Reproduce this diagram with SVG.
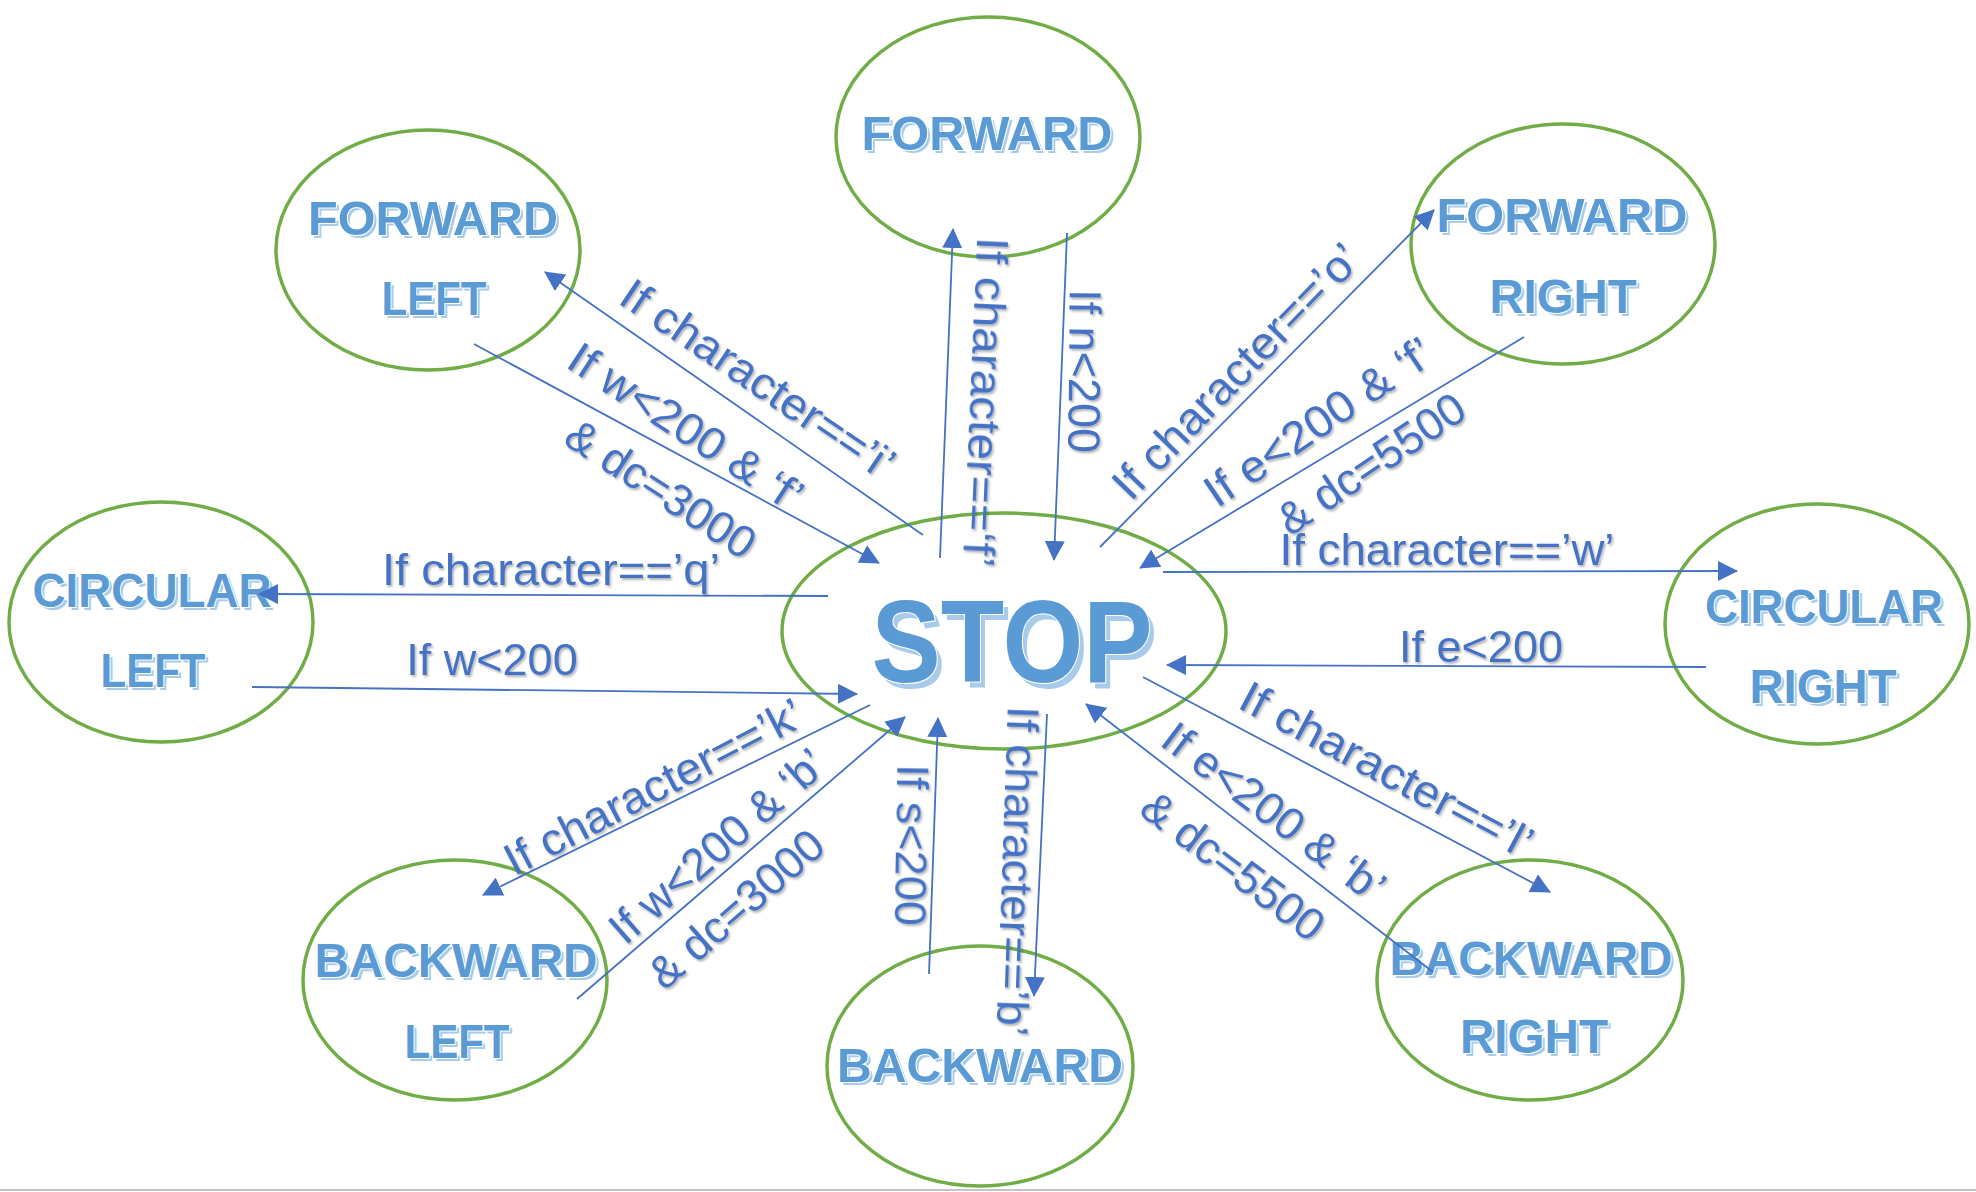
<svg xmlns="http://www.w3.org/2000/svg" width="1976" height="1192" viewBox="0 0 1976 1192">
<style>
.node ellipse{fill:none;stroke:#70AD47;stroke-width:3.5}
.ns{font-family:"Liberation Sans",Arial,sans-serif;font-size:48px;font-weight:bold;text-anchor:middle;fill:#A9CBEB}
.nt{font-family:"Liberation Sans",Arial,sans-serif;font-size:48px;font-weight:bold;text-anchor:middle;fill:#5B9BD5;stroke:#fff;stroke-width:2.2;paint-order:stroke}
.stop{font-size:116px}
.conn line{stroke:#4472C4;stroke-width:1.8;marker-end:url(#ah)}
.lb{font-family:"Liberation Sans",Arial,sans-serif;font-size:45px;fill:#4472C4;text-anchor:middle}
</style>
<defs>
<marker id="ah" markerUnits="userSpaceOnUse" viewBox="0 0 20 20" markerWidth="20" markerHeight="20" refX="19" refY="10" orient="auto">
<path d="M0,0 L20,10 L0,20 z" fill="#4472C4"/>
</marker>
<filter id="sh" x="-10%" y="-30%" width="120%" height="160%">
<feDropShadow dx="1.5" dy="2" stdDeviation="1.2" flood-color="#000" flood-opacity="0.3"/>
</filter>
</defs>
<rect width="1976" height="1192" fill="#fff"/>
<line x1="0" y1="1190" x2="1976" y2="1190" stroke="#C4C4C4" stroke-width="2"/>

<g id="forward" class="node">
<ellipse cx="988" cy="137" rx="152" ry="120"/>
<text class="ns" x="990" y="153" textLength="251" lengthAdjust="spacingAndGlyphs">FORWARD</text>
<text class="nt" x="987" y="150" textLength="251" lengthAdjust="spacingAndGlyphs">FORWARD</text>
</g>
<g id="forward-left" class="node">
<ellipse cx="428" cy="250" rx="152" ry="120"/>
<text class="ns" x="436" y="238" textLength="250" lengthAdjust="spacingAndGlyphs">FORWARD</text>
<text class="nt" x="433" y="235" textLength="250" lengthAdjust="spacingAndGlyphs">FORWARD</text>
<text class="ns" x="437" y="318" textLength="105" lengthAdjust="spacingAndGlyphs">LEFT</text>
<text class="nt" x="434" y="315" textLength="105" lengthAdjust="spacingAndGlyphs">LEFT</text>
</g>
<g id="forward-right" class="node">
<ellipse cx="1563" cy="244" rx="152" ry="120"/>
<text class="ns" x="1565" y="235" textLength="251" lengthAdjust="spacingAndGlyphs">FORWARD</text>
<text class="nt" x="1562" y="232" textLength="251" lengthAdjust="spacingAndGlyphs">FORWARD</text>
<text class="ns" x="1566" y="316" textLength="147" lengthAdjust="spacingAndGlyphs">RIGHT</text>
<text class="nt" x="1563" y="313" textLength="147" lengthAdjust="spacingAndGlyphs">RIGHT</text>
</g>
<g id="circular-left" class="node">
<ellipse cx="161" cy="622" rx="152" ry="120"/>
<text class="ns" x="155" y="610" textLength="239" lengthAdjust="spacingAndGlyphs">CIRCULAR</text>
<text class="nt" x="152" y="607" textLength="239" lengthAdjust="spacingAndGlyphs">CIRCULAR</text>
<text class="ns" x="156" y="690" textLength="105" lengthAdjust="spacingAndGlyphs">LEFT</text>
<text class="nt" x="153" y="687" textLength="105" lengthAdjust="spacingAndGlyphs">LEFT</text>
</g>
<g id="circular-right" class="node">
<ellipse cx="1817" cy="624" rx="152" ry="120"/>
<text class="ns" x="1827" y="626" textLength="238" lengthAdjust="spacingAndGlyphs">CIRCULAR</text>
<text class="nt" x="1824" y="623" textLength="238" lengthAdjust="spacingAndGlyphs">CIRCULAR</text>
<text class="ns" x="1826" y="706" textLength="147" lengthAdjust="spacingAndGlyphs">RIGHT</text>
<text class="nt" x="1823" y="703" textLength="147" lengthAdjust="spacingAndGlyphs">RIGHT</text>
</g>
<g id="stop" class="node">
<ellipse cx="1004" cy="631" rx="222" ry="118"/>
<text class="ns stop" x="1017" y="688" textLength="281" lengthAdjust="spacingAndGlyphs">STOP</text>
<text class="nt stop" x="1012" y="682" textLength="281" lengthAdjust="spacingAndGlyphs">STOP</text>
</g>
<g id="backward-left" class="node">
<ellipse cx="455" cy="980" rx="152" ry="120"/>
<text class="ns" x="459" y="980" textLength="283" lengthAdjust="spacingAndGlyphs">BACKWARD</text>
<text class="nt" x="456" y="977" textLength="283" lengthAdjust="spacingAndGlyphs">BACKWARD</text>
<text class="ns" x="460" y="1061" textLength="105" lengthAdjust="spacingAndGlyphs">LEFT</text>
<text class="nt" x="457" y="1058" textLength="105" lengthAdjust="spacingAndGlyphs">LEFT</text>
</g>
<g id="backward" class="node">
<ellipse cx="980" cy="1066" rx="153" ry="120"/>
<text class="ns" x="983" y="1085" textLength="286" lengthAdjust="spacingAndGlyphs">BACKWARD</text>
<text class="nt" x="980" y="1082" textLength="286" lengthAdjust="spacingAndGlyphs">BACKWARD</text>
</g>
<g id="backward-right" class="node">
<ellipse cx="1530" cy="980" rx="153" ry="120"/>
<text class="ns" x="1534" y="978" textLength="283" lengthAdjust="spacingAndGlyphs">BACKWARD</text>
<text class="nt" x="1531" y="975" textLength="283" lengthAdjust="spacingAndGlyphs">BACKWARD</text>
<text class="ns" x="1537" y="1056" textLength="148" lengthAdjust="spacingAndGlyphs">RIGHT</text>
<text class="nt" x="1534" y="1053" textLength="148" lengthAdjust="spacingAndGlyphs">RIGHT</text>
</g>

<g id="connectors" class="conn">
<line x1="923" y1="535" x2="545" y2="272"/>
<line x1="474" y1="344" x2="879" y2="563"/>
<line x1="940" y1="558" x2="953" y2="229"/>
<line x1="1067" y1="233" x2="1054" y2="560"/>
<line x1="1100" y1="547" x2="1434" y2="210"/>
<line x1="1524" y1="337" x2="1140" y2="568"/>
<line x1="1163" y1="572" x2="1737" y2="571"/>
<line x1="828" y1="596" x2="259" y2="594"/>
<line x1="252" y1="687" x2="857" y2="694"/>
<line x1="1706" y1="667" x2="1167" y2="665"/>
<line x1="870" y1="705" x2="483" y2="895"/>
<line x1="577" y1="999" x2="905" y2="717"/>
<line x1="929" y1="974" x2="938" y2="718"/>
<line x1="1047" y1="714" x2="1034" y2="996"/>
<line x1="1433" y1="972" x2="1086" y2="704"/>
<line x1="1143" y1="677" x2="1550" y2="892"/>
</g>

<g id="labels" filter="url(#sh)">
<text class="lb" transform="translate(757,380) rotate(34)" y="14" textLength="320" lengthAdjust="spacingAndGlyphs">If character==’i’</text>
<text class="lb" transform="translate(685,428) rotate(33)" y="14" textLength="270" lengthAdjust="spacingAndGlyphs">If w&lt;200 &amp; ‘f’</text>
<text class="lb" transform="translate(660,490) rotate(33)" y="14">&amp; dc=3000</text>
<text class="lb" transform="translate(984,402) rotate(92.5)" y="14" textLength="330" lengthAdjust="spacingAndGlyphs">If character==‘f’</text>
<text class="lb" transform="translate(1083,371) rotate(90.5)" y="14">If n&lt;200</text>
<text class="lb" transform="translate(1237,372) rotate(-46)" y="14" textLength="335" lengthAdjust="spacingAndGlyphs">If character==’o’</text>
<text class="lb" transform="translate(1319,423) rotate(-34)" y="14" textLength="265" lengthAdjust="spacingAndGlyphs">If e&lt;200 &amp; ‘f’</text>
<text class="lb" transform="translate(1372,465) rotate(-34)" y="14">&amp; dc=5500</text>
<text class="lb" x="1447" y="565" textLength="335" lengthAdjust="spacingAndGlyphs">If character==’w’</text>
<text class="lb" x="551" y="585" textLength="338" lengthAdjust="spacingAndGlyphs">If character==’q’</text>
<text class="lb" x="492" y="675">If w&lt;200</text>
<text class="lb" x="1481" y="662">If e&lt;200</text>
<text class="lb" transform="translate(654,788) rotate(-27.5)" y="14" textLength="330" lengthAdjust="spacingAndGlyphs">If character==’k’</text>
<text class="lb" transform="translate(718,847) rotate(-41)" y="14" textLength="270" lengthAdjust="spacingAndGlyphs">If w&lt;200 &amp; ‘b’</text>
<text class="lb" transform="translate(737,910) rotate(-41)" y="14">&amp; dc=3000</text>
<text class="lb" transform="translate(910,845) rotate(91)" y="14">If s&lt;200</text>
<text class="lb" transform="translate(1016,871) rotate(92)" y="14" textLength="330" lengthAdjust="spacingAndGlyphs">If character==’b’</text>
<text class="lb" transform="translate(1273,813) rotate(37)" y="14" textLength="266" lengthAdjust="spacingAndGlyphs">If e&lt;200 &amp; ‘b’</text>
<text class="lb" transform="translate(1232,867) rotate(37)" y="14">&amp; dc=5500</text>
<text class="lb" transform="translate(1386,771) rotate(28)" y="14" textLength="325" lengthAdjust="spacingAndGlyphs">If character==’l’</text>
</g>
</svg>
